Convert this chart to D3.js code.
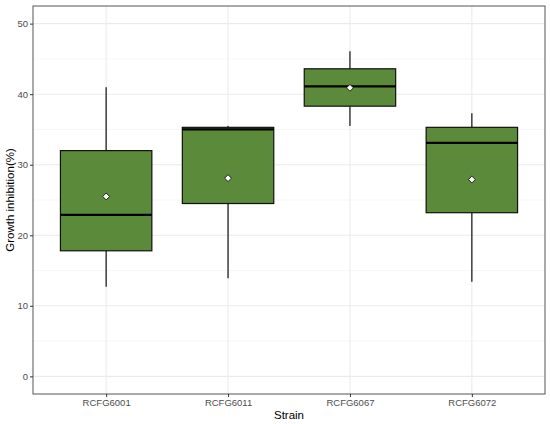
<!DOCTYPE html>
<html>
<head>
<meta charset="utf-8">
<script src="https://cdn.jsdelivr.net/npm/d3@7"></script>
<style>
  body { margin: 0; background: #fff; }
  text { font-family: "Liberation Sans", Arial, sans-serif; }
</style>
</head>
<body>
<div id="chart"></div>
<script>
// values
const strains = ["RCFG6001", "RCFG6011", "RCFG6067", "RCFG6072"];
const whiskerLow = [12.7, 13.9, 35.5, 13.4];
const q1 = [17.8, 24.5, 38.3, 23.2];
const median = [22.9, 35.0, 41.1, 33.1];
const q3 = [32.0, 35.3, 43.6, 35.3];
const whiskerHigh = [41.0, 35.5, 46.1, 37.3];
const means = [25.5, 28.1, 40.9, 27.9];
const yTicks = [0, 10, 20, 30, 40, 50];
const yMinor = [5, 15, 25, 35, 45];

const boxes = strains.map((s, i) => ({
  strain: s,
  lo: whiskerLow[i],
  q1: q1[i],
  med: median[i],
  q3: q3[i],
  hi: whiskerHigh[i],
  mean: means[i],
}));

const W = 550,
  H = 424;
const margin = { top: 6, right: 5, bottom: 30, left: 33 };
const width = W - margin.left - margin.right;
const height = H - margin.top - margin.bottom;
const fill = "#5b8a3a";

let svg = d3
  .select("#chart")
  .append("svg")
  .attr("width", W)
  .attr("height", H);

let g = svg
  .append("g")
  .attr("transform", "translate(" + margin.left + "," + margin.top + ")");

// discrete scale with ggplot's 0.6 expansion on each side
const x = d3
  .scalePoint()
  .domain(strains)
  .range([width * 0.6 / 4.2, width * 3.6 / 4.2]);
const boxW = (width / 4.2) * 0.75;

const y = d3.scaleLinear().domain([-2.5, 52.5]).range([height, 0]);

// grid
g.selectAll(".minor")
  .data(yMinor)
  .join("line")
  .attr("x1", 0)
  .attr("x2", width)
  .attr("y1", (d) => y(d))
  .attr("y2", (d) => y(d))
  .attr("stroke", "#f2f2f2")
  .attr("stroke-width", 0.6);

g.selectAll(".major-y")
  .data(yTicks)
  .join("line")
  .attr("x1", 0)
  .attr("x2", width)
  .attr("y1", (d) => y(d))
  .attr("y2", (d) => y(d))
  .attr("stroke", "#ebebeb")
  .attr("stroke-width", 1.1);

g.selectAll(".major-x")
  .data(strains)
  .join("line")
  .attr("x1", (d) => x(d))
  .attr("x2", (d) => x(d))
  .attr("y1", 0)
  .attr("y2", height)
  .attr("stroke", "#ebebeb")
  .attr("stroke-width", 1.1);

// boxplots
const box = g
  .selectAll(".box")
  .data(boxes)
  .join("g")
  .attr("class", "box");

box
  .append("line")
  .attr("x1", (d) => x(d.strain))
  .attr("x2", (d) => x(d.strain))
  .attr("y1", (d) => y(d.hi))
  .attr("y2", (d) => y(d.q3))
  .attr("stroke", "#111")
  .attr("stroke-width", 1.2);

box
  .append("line")
  .attr("x1", (d) => x(d.strain))
  .attr("x2", (d) => x(d.strain))
  .attr("y1", (d) => y(d.q1))
  .attr("y2", (d) => y(d.lo))
  .attr("stroke", "#111")
  .attr("stroke-width", 1.2);

box
  .append("rect")
  .attr("x", (d) => x(d.strain) - boxW / 2)
  .attr("width", boxW)
  .attr("y", (d) => y(d.q3))
  .attr("height", (d) => y(d.q1) - y(d.q3))
  .attr("fill", fill)
  .attr("stroke", "#111")
  .attr("stroke-width", 1.2);

box
  .append("line")
  .attr("x1", (d) => x(d.strain) - boxW / 2)
  .attr("x2", (d) => x(d.strain) + boxW / 2)
  .attr("y1", (d) => y(d.med))
  .attr("y2", (d) => y(d.med))
  .attr("stroke", "#000")
  .attr("stroke-width", 2.2);

// mean markers (white diamonds)
box
  .append("path")
  .attr("d", d3.symbol(d3.symbolDiamond2, 30))
  .attr("transform", (d) => "translate(" + x(d.strain) + "," + y(d.mean) + ")")
  .attr("fill", "#fff")
  .attr("stroke", "#000")
  .attr("stroke-width", 0.8);

// panel border
g.append("rect")
  .attr("width", width)
  .attr("height", height)
  .attr("fill", "none")
  .attr("stroke", "#555")
  .attr("stroke-width", 1);

// axes
g.append("g")
  .attr("class", "x-axis")
  .attr("transform", "translate(0," + height + ")")
  .call(d3.axisBottom(x).tickSize(3).tickPadding(2))
  .call((a) => a.select(".domain").remove())
  .call((a) => a.selectAll("line").attr("stroke", "#333"))
  .call((a) =>
    a.selectAll("text").attr("fill", "#4d4d4d").attr("font-size", 9.5)
  );

g.append("g")
  .attr("class", "y-axis")
  .call(d3.axisLeft(y).tickValues(yTicks).tickSize(3).tickPadding(2))
  .call((a) => a.select(".domain").remove())
  .call((a) => a.selectAll("line").attr("stroke", "#333"))
  .call((a) =>
    a.selectAll("text").attr("fill", "#4d4d4d").attr("font-size", 9.5)
  );

svg
  .append("text")
  .attr("x", margin.left + width / 2)
  .attr("y", 419)
  .attr("text-anchor", "middle")
  .attr("font-size", 11.5)
  .attr("fill", "#000")
  .text("Strain");

svg
  .append("text")
  .attr("transform", "translate(14," + (margin.top + height / 2) + ") rotate(-90)")
  .attr("text-anchor", "middle")
  .attr("font-size", 11.5)
  .attr("fill", "#000")
  .text("Growth inhibition(%)");
</script>
</body>
</html>
